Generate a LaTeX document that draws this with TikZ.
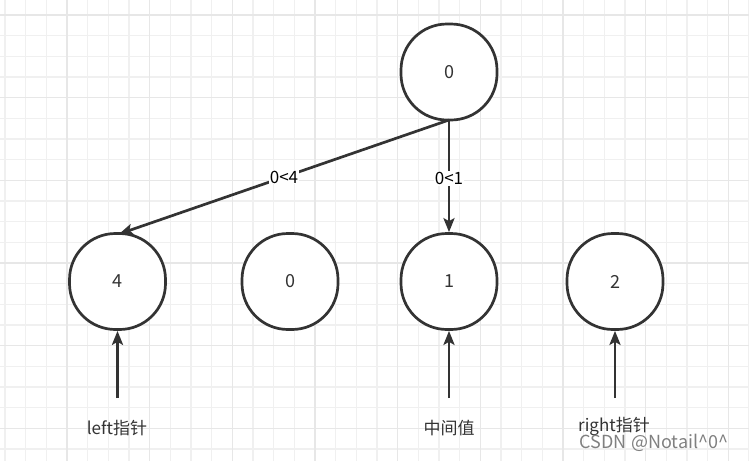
\documentclass[tikz,border=0pt]{standalone}
\usepackage{fontspec}
\setmainfont{Noto Sans CJK SC}
\usetikzlibrary{arrows.meta}
\definecolor{minorg}{HTML}{F0F0F0}
\definecolor{majorg}{HTML}{E7E7E7}
\definecolor{ink}{HTML}{333333}
\tikzset{
  bubble/.style={draw=ink, line width=2.7pt, rounded corners=46pt, minimum width=96pt, minimum height=96pt, fill=white, inner sep=0pt, font=\fontsize{18}{21}\selectfont, text=ink},
  link/.style={draw=ink, line width=2.7pt, -{Stealth[length=14pt,width=11pt,inset=3pt]}},
  lbl/.style={font=\fontsize{17}{20}\selectfont, text=ink, inner sep=1pt},
  edgelbl/.style={font=\fontsize{17}{20}\selectfont, text=black, fill=white, inner sep=1pt}
}
\begin{document}
\begin{tikzpicture}[x=1pt,y=-1pt]
\useasboundingbox (0,0) rectangle (749,461);
\fill[white] (0,0) rectangle (749,461);
% grid
\foreach \i in {0,...,36} {
  \draw[minorg, line width=1.2pt] ({5+20.667*\i},0) -- ({5+20.667*\i},461);
}
\foreach \i in {0,...,22} {
  \draw[minorg, line width=1.2pt] (0,{15+20.667*\i}) -- (749,{15+20.667*\i});
}
\foreach \i in {0,...,8} {
  \draw[majorg, line width=1.2pt] ({67+82.667*\i},0) -- ({67+82.667*\i},461);
}
\foreach \i in {0,...,5} {
  \draw[majorg, line width=1.2pt] (0,{15+82.667*\i}) -- (749,{15+82.667*\i});
}
% nodes
\node[bubble] (top) at (449,72) {0};
\node[bubble] (n4) at (117.5,281.5) {4};
\node[bubble] (n0) at (290,281.5) {0};
\node[bubble] (n1) at (449,281.5) {1};
\node[bubble] (n2) at (615,281.5) {2};
% connectors from top
\coordinate (topb) at (449,120);
\coordinate (n4t) at (119,234);
\draw[link] (topb) -- (n4t) node[edgelbl, pos=0.5] {0<4};
\draw[link] (topb) -- (n1.north) node[edgelbl, pos=0.52] {0<1};
% pointer arrows
\coordinate (p4) at (117.5,398);
\coordinate (p1) at (449,398);
\coordinate (p2) at (615,398);
\draw[link] (p4) -- (n4.south);
\draw[link] (p1) -- (n1.south);
\draw[link] (p2) -- (n2.south);
% labels
\node[lbl] (l4) at (117,428) {left指针};
\node[lbl] (l1) at (449,428) {中间值};
\node[lbl] (l2) at (614,426) {right指针};
\node[font=\fontsize{18}{21}\selectfont, text=black!50, inner sep=0pt] (wm) at (654,443) {CSDN @Notail\textasciicircum0\textasciicircum};
\end{tikzpicture}
\end{document}
